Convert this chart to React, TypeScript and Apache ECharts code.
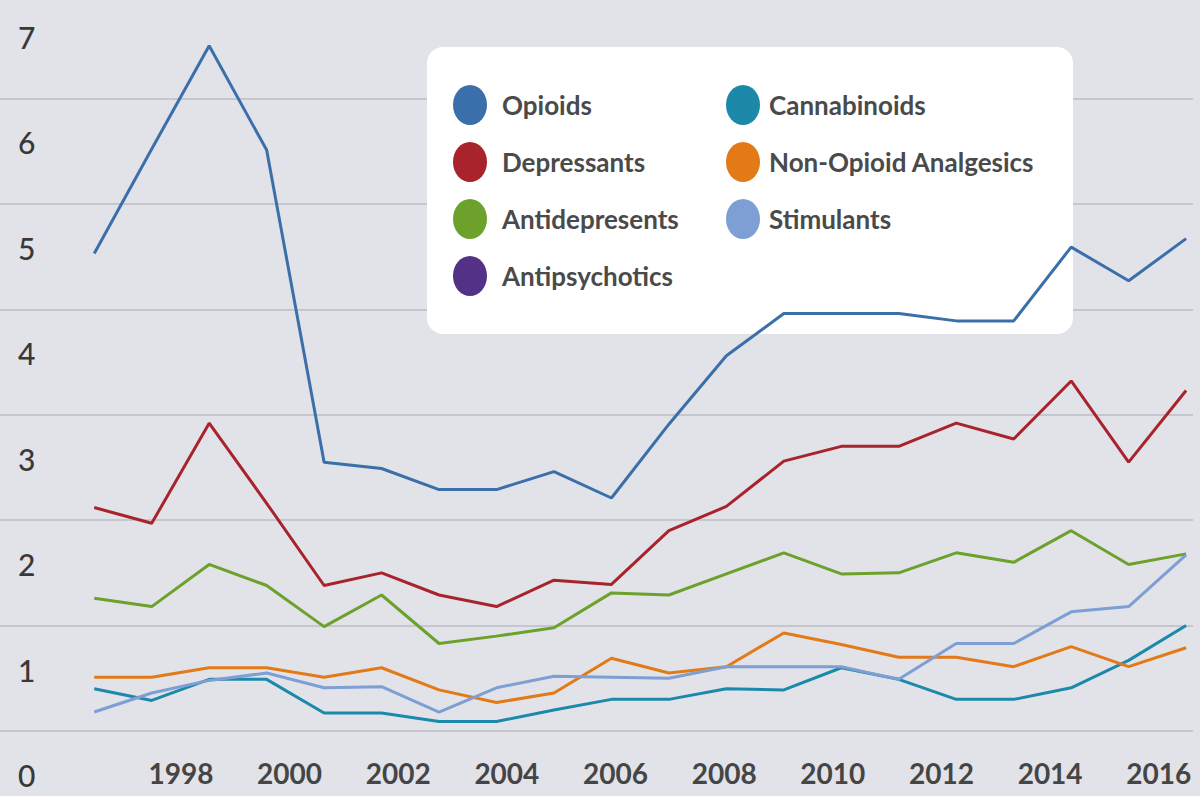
import React, { useEffect, useRef } from "react";
import * as echarts from "echarts";

const years = [1997, 1998, 1999, 2000, 2001, 2002, 2003, 2004, 2005, 2006, 2007, 2008, 2009, 2010, 2011, 2012, 2013, 2014, 2015, 2016];
const tickYears = [1998, 2000, 2002, 2004, 2006, 2008, 2010, 2012, 2014, 2016];

const opioids = [4.53, 5.52, 6.5, 5.51, 2.55, 2.49, 2.29, 2.29, 2.46, 2.21, 2.91, 3.56, 3.96, 3.96, 3.96, 3.89, 3.89, 4.59, 4.27, 4.67];
const depressants = [2.12, 1.97, 2.92, 2.16, 1.38, 1.5, 1.29, 1.18, 1.43, 1.39, 1.9, 2.13, 2.56, 2.7, 2.7, 2.92, 2.77, 3.32, 2.55, 3.23];
const antidepresents = [1.26, 1.18, 1.58, 1.38, 0.99, 1.29, 0.83, 0.9, 0.98, 1.31, 1.29, 1.49, 1.69, 1.49, 1.5, 1.69, 1.6, 1.9, 1.58, 1.68];
const antipsychotics: number[] = [];
const cannabinoids = [0.4, 0.29, 0.49, 0.49, 0.17, 0.17, 0.09, 0.09, 0.2, 0.3, 0.3, 0.4, 0.39, 0.6, 0.49, 0.3, 0.3, 0.41, 0.67, 1.0];
const nonOpioid = [0.51, 0.51, 0.6, 0.6, 0.51, 0.6, 0.39, 0.27, 0.36, 0.69, 0.55, 0.61, 0.93, 0.82, 0.7, 0.7, 0.61, 0.8, 0.61, 0.79];
const stimulants = [0.18, 0.36, 0.48, 0.55, 0.41, 0.42, 0.18, 0.41, 0.52, 0.51, 0.5, 0.61, 0.61, 0.61, 0.49, 0.83, 0.83, 1.13, 1.18, 1.67];

const seriesDefs = [
  { name: "Opioids", data: opioids, color: "#3b6fa9" },
  { name: "Depressants", data: depressants, color: "#a8232b" },
  { name: "Antidepresents", data: antidepresents, color: "#6ca12b" },
  { name: "Antipsychotics", data: antipsychotics, color: "#533187" },
  { name: "Cannabinoids", data: cannabinoids, color: "#1d89aa" },
  { name: "Non-Opioid Analgesics", data: nonOpioid, color: "#e37a18" },
  { name: "Stimulants", data: stimulants, color: "#7d9fd3" },
];

const legendCol1 = ["Opioids", "Depressants", "Antidepresents", "Antipsychotics"];
const legendCol2 = ["Cannabinoids", "Non-Opioid Analgesics", "Stimulants"];

const ellipseIcon = "path://M0,20 A17,20 0 1 1 34,20 A17,20 0 1 1 0,20 Z";

export default function App() {
  const ref = useRef<HTMLDivElement>(null);
  useEffect(() => {
    if (!ref.current) return;
    const chart = echarts.init(ref.current, null, { renderer: "svg" });
    const legendText = (pad: number) => ({
      fontSize: 26,
      fontWeight: "bold",
      color: "#4a4a4a",
      fontFamily: "Lato",
      padding: [0, 0, 0, pad],
    });
    const legendCommon = {
      orient: "vertical",
      top: 80,
      itemWidth: 34,
      itemHeight: 40,
      itemGap: 17,
      icon: ellipseIcon,
      selectedMode: false,
      z: 5,
    };
    chart.setOption({
      animation: false,
      backgroundColor: "#e2e2e9",
      grid: { left: 0, right: 7, top: -7, bottom: 65, containLabel: false, outerBoundsMode: "none" },
      graphic: [
        {
          type: "rect",
          z: 1,
          shape: { x: 427, y: 47, width: 646, height: 287, r: 16 },
          style: { fill: "#ffffff" },
        },
      ],
      legend: [
        { ...legendCommon, left: 448, data: legendCol1, textStyle: legendText(10) },
        { ...legendCommon, left: 721, data: legendCol2, textStyle: legendText(4) },
      ],
      xAxis: [
        {
          type: "value",
          min: 1995.36,
          max: 2016.12,
          axisLine: { show: false },
          axisTick: { show: false },
          axisLabel: { show: false },
          splitLine: { show: false },
        },
        {
          type: "value",
          position: "bottom",
          min: 1994.67,
          max: 2016.63,
          axisLine: { show: false },
          axisTick: { show: false },
          splitLine: { show: false },
          axisLabel: {
            customValues: tickYears,
            formatter: (v: number) => String(v),
            fontSize: 28,
            fontWeight: "bold",
            color: "#454545",
            fontFamily: "Lato",
            margin: 28,
          },
        },
      ],
      yAxis: {
        type: "value",
        min: 0,
        max: 7,
        interval: 1,
        axisLine: { show: false },
        axisTick: { show: false },
        splitLine: { lineStyle: { color: "#c6c6ce", width: 2 } },
        axisLabel: {
          inside: true,
          margin: 18,
          fontSize: 30,
          fontWeight: 500,
          color: "#383838",
          fontFamily: "Lato",
          verticalAlign: "top",
          lineHeight: 88,
          align: "left",
        },
      },
      series: seriesDefs.map((s) => ({
        name: s.name,
        type: "line",
        xAxisIndex: 0,
        yAxisIndex: 0,
        symbol: "none",
        showSymbol: false,
        z: 3,
        data: s.data.map((v, i) => [years[i], v]),
        lineStyle: { color: s.color, width: 3 },
        itemStyle: { color: s.color },
      })),
    });
    return () => chart.dispose();
  }, []);
  return (
    <div
      ref={ref}
      style={{ position: "fixed", left: 0, top: 0, width: 1200, height: 796, background: "#e2e2e9" }}
    />
  );
}
